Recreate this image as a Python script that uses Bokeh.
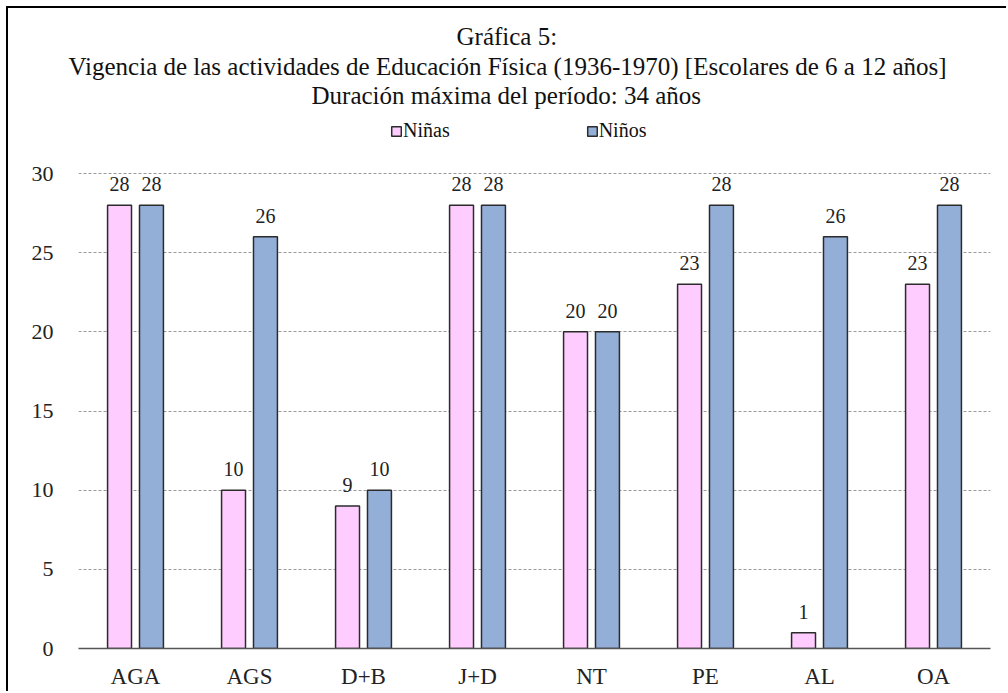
from bokeh.plotting import figure
from bokeh.models import (ColumnDataSource, FactorRange, Range1d, Legend, LegendItem,
                          FixedTicker, Title)
from bokeh.transform import dodge
from bokeh.core.properties import value
from bokeh.embed import file_html
from bokeh.resources import INLINE

categories = ["AGA", "AGS", "D+B", "J+D", "NT", "PE", "AL", "OA"]
ninas = [28, 10, 9, 28, 20, 23, 1, 23]
ninos = [28, 26, 10, 28, 20, 28, 26, 28]
y_ticks = [0, 5, 10, 15, 20, 25, 30]
series_names = ["Niñas", "Niños"]
title_lines = [
    "Gráfica 5:",
    "Vigencia de las actividades de Educación Física (1936-1970) [Escolares de 6 a 12 años]",
    "Duración máxima del período: 34 años",
]

FONT = "Liberation Serif"
PINK = "#FFCCFF"
BLUE = "#93AFD8"
EDGE = "#2b2b2b"

# layout (pixels)
TOP_BORDER = 100         # canvas top -> frame top
FRAME_H = 640 - TOP_BORDER
PX_0_TO_30 = 475
y_top = 30 * FRAME_H / PX_0_TO_30

src = ColumnDataSource(dict(
    cat=categories,
    ninas=ninas,
    ninos=ninos,
    ninas_lbl=[str(v) for v in ninas],
    ninos_lbl=[str(v) for v in ninos],
))

p = figure(
    x_range=FactorRange(factors=categories, range_padding=0),
    y_range=Range1d(0, y_top),
    width=1000, height=685,
    output_backend="svg", toolbar_location=None,
    min_border_left=70, min_border_right=18,
    min_border_top=TOP_BORDER, min_border_bottom=45,
    styles={"margin-top": "6px", "margin-left": "6px",
            "border-top": "2px solid black", "border-left": "2px solid black"},
)
p.title = None

# chart title lines, left-aligned with offsets so each is centred near the canvas middle
title_offsets = [378, -10, 233]
title_standoffs = [2, 0, 0]
for line, offs, so in reversed(list(zip(title_lines, title_offsets, title_standoffs))):
    p.add_layout(Title(text=line, align="left", offset=offs, standoff=so,
                       text_font=FONT, text_font_size="25px", text_font_style="normal",
                       text_color="#111111"), "above")

off = 0.14
bw = 0.21
r1 = p.vbar(x=dodge("cat", -off, range=p.x_range), top="ninas", width=bw, source=src,
            fill_color=PINK, line_color=EDGE, line_width=1.5)
r2 = p.vbar(x=dodge("cat", off, range=p.x_range), top="ninos", width=bw, source=src,
            fill_color=BLUE, line_color=EDGE, line_width=1.5)

p.text(x=dodge("cat", -off, range=p.x_range), y="ninas", text="ninas_lbl", source=src,
       text_align="center", text_baseline="alphabetic", y_offset=-21,
       text_font=value(FONT), text_font_size="20px", text_color="#222222")
p.text(x=dodge("cat", off, range=p.x_range), y="ninos", text="ninos_lbl", source=src,
       text_align="center", text_baseline="alphabetic", y_offset=-21,
       text_font=value(FONT), text_font_size="20px", text_color="#222222")

legend = Legend(
    items=[LegendItem(label=series_names[0], renderers=[r1]),
           LegendItem(label=series_names[1], renderers=[r2])],
    orientation="horizontal", location=(312, 506),
    spacing=136, glyph_width=12, glyph_height=12, label_standoff=1,
    label_text_font=FONT, label_text_font_size="20px", label_text_color="#111111",
    border_line_color=None, background_fill_alpha=0, padding=0, margin=0,
)
p.add_layout(legend, "center")

p.xgrid.grid_line_color = None
p.ygrid.grid_line_color = "#9a9a9a"
p.ygrid.grid_line_dash = "3 2"
p.ygrid.grid_line_width = 1
p.yaxis.ticker = FixedTicker(ticks=y_ticks)
p.yaxis.axis_line_color = None
p.yaxis.major_tick_line_color = None
p.yaxis.minor_tick_line_color = None
p.yaxis.major_tick_out = 0
p.yaxis.major_tick_in = 0
p.yaxis.major_label_standoff = 25
p.yaxis.major_label_text_font = FONT
p.yaxis.major_label_text_font_size = "22px"
p.yaxis.major_label_text_color = "#222222"

p.xaxis.axis_line_color = "#555555"
p.xaxis.axis_line_width = 1.5
p.xaxis.major_tick_line_color = None
p.xaxis.minor_tick_line_color = None
p.xaxis.major_tick_out = 0
p.xaxis.major_tick_in = 0
p.xaxis.major_label_standoff = 15
p.xaxis.major_label_text_font = FONT
p.xaxis.major_label_text_font_size = "23px"
p.xaxis.major_label_text_color = "#222222"

p.outline_line_color = None
p.background_fill_color = "white"
p.border_fill_color = "white"

open("out.html", "w").write(file_html(p, INLINE))
